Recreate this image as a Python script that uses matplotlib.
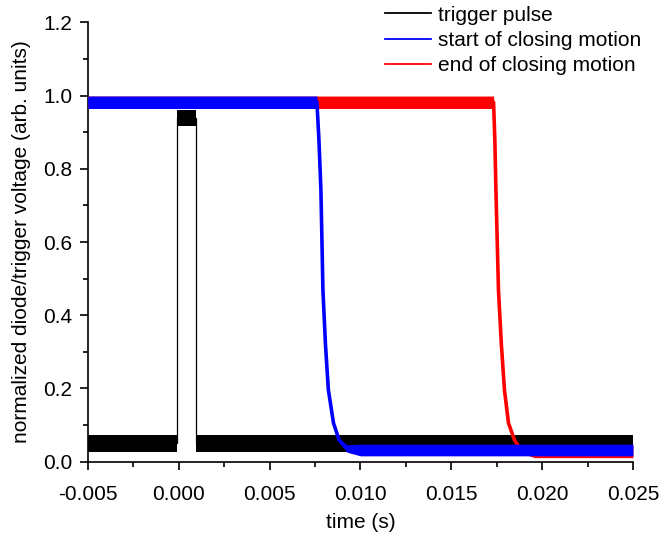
import numpy as np
import matplotlib
matplotlib.use("Agg")
import matplotlib.pyplot as plt
from matplotlib.lines import Line2D

plt.rcParams['font.family'] = ['Liberation Sans', 'DejaVu Sans']

# trigger pulse (time in s, level, noise half-width)
trig_t = [-0.005, -0.00007, -0.00007, 0.00096, 0.00096, 0.025]
trig_v = [0.050, 0.050, 0.940, 0.940, 0.050, 0.050]
trig_n = [0.023, 0.023, 0.022, 0.022, 0.023, 0.023]

# start of closing motion (blue)
blue_t = [-0.005, 0.00761, 0.00772, 0.00783, 0.00794, 0.00808, 0.00824, 0.00852, 0.00883, 0.00926, 0.0100, 0.025]
blue_v = [0.982, 0.982, 0.880, 0.742, 0.469, 0.320, 0.196, 0.106, 0.059, 0.036, 0.032, 0.032]
blue_n = [0.017, 0.017, 0.0, 0.0, 0.0, 0.0, 0.0, 0.0, 0.004, 0.010, 0.016, 0.016]

# end of closing motion (red)
red_t = [-0.005, 0.01733, 0.01740, 0.01746, 0.01760, 0.01776, 0.01793, 0.01815, 0.01848, 0.01880, 0.0196, 0.025]
red_v = [0.982, 0.982, 0.880, 0.742, 0.469, 0.320, 0.196, 0.106, 0.059, 0.034, 0.028, 0.028]
red_n = [0.017, 0.017, 0.0, 0.0, 0.0, 0.0, 0.0, 0.0, 0.004, 0.010, 0.017, 0.017]

labels = ['trigger pulse', 'start of closing motion', 'end of closing motion']
colors = ['black', '#0000ff', '#ff0000']

fig = plt.figure(figsize=(6.6, 5.35), dpi=100)
ax = fig.add_axes([0.133, 0.137, 0.826, 0.821])

traces = [(trig_t, trig_v, trig_n), (red_t, red_v, red_n), (blue_t, blue_v, blue_n)]
cols = ['black', '#ff0000', '#0000ff']
for z, ((t, v, n), c) in enumerate(zip(traces, cols)):
    t = np.array(t)
    v = np.array(v)
    n = np.array(n)
    ax.fill_between(t, v - n, v + n, color=c, lw=0, zorder=2 + z)
    ax.plot(t, v, color=c, lw=0.9 if c == 'black' else 2.6, zorder=2 + z,
            solid_joinstyle='round')

ax.set_xlim(-0.005, 0.025)
ax.set_ylim(0, 1.2)
ax.set_xticks(np.arange(-0.005, 0.0251, 0.005))
ax.set_xticks(np.arange(-0.005, 0.0251, 0.0025), minor=True)
ax.set_yticks(np.arange(0, 1.21, 0.2))
ax.set_yticks(np.arange(0, 1.21, 0.1), minor=True)
ax.set_xticklabels(['-0.005', '0.000', '0.005', '0.010', '0.015', '0.020', '0.025'])
ax.set_yticklabels(['0.0', '0.2', '0.4', '0.6', '0.8', '1.0', '1.2'])
ax.tick_params(which='major', direction='out', length=6, width=1.2, labelsize=15)
ax.tick_params(axis='x', which='major', pad=11)
ax.tick_params(axis='y', which='major', pad=5)
ax.tick_params(which='minor', direction='out', length=3.5, width=1.2)
for s in ['top', 'right']:
    ax.spines[s].set_visible(False)
for s in ['left', 'bottom']:
    ax.spines[s].set_linewidth(1.2)

ax.set_xlabel('time (s)', fontsize=15, labelpad=6)
ax.set_ylabel('normalized diode/trigger voltage (arb. units)', fontsize=15, labelpad=9)

handles = [Line2D([], [], color=c, lw=1.3) for c in colors]
fig.legend(handles, labels, loc='upper left', bbox_to_anchor=(0.571, 1.005),
           frameon=False, fontsize=15, handlelength=2.2, handletextpad=0.33,
           labelspacing=0.3, borderaxespad=0)

fig.savefig('out.png', dpi=100)
